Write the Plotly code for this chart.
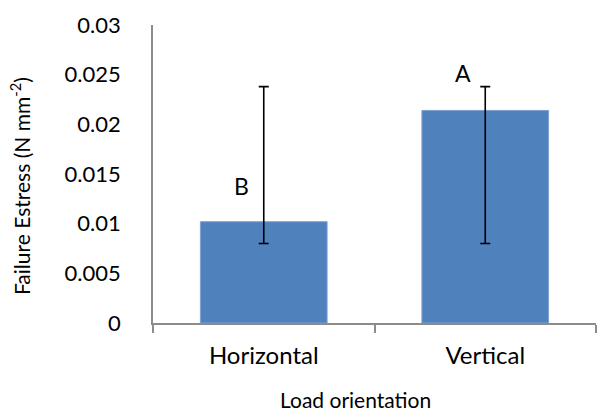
import plotly.graph_objects as go

# Mean failure stress per load orientation, with the upper and lower whisker ends
categories = ["Horizontal", "Vertical"]
mean_stress = [0.0102, 0.0214]
whisker_high = [0.0238, 0.0238]
whisker_low = [0.0080, 0.0080]
group_letters = ["B", "A"]
letter_y = [0.0138, 0.0252]

y_tick_vals = [0, 0.005, 0.01, 0.015, 0.02, 0.025, 0.03]
y_tick_text = ["0", "0.005", "0.01", "0.015", "0.02", "0.025", "0.03"]

err_plus = [h - m for h, m in zip(whisker_high, mean_stress)]
err_minus = [m - l for m, l in zip(mean_stress, whisker_low)]

FONT = "Lato, 'Open Sans', sans-serif"
AXIS_GREY = "#8c8c8c"

fig = go.Figure(
    go.Bar(
        x=categories,
        y=mean_stress,
        width=0.572,
        marker=dict(color="#4f81bd", line=dict(color="#7ea3d3", width=1)),
        error_y=dict(
            type="data",
            symmetric=False,
            array=err_plus,
            arrayminus=err_minus,
            color="black",
            thickness=1.6,
            width=5,
        ),
    )
)

# significance letters above each bar
for cat, letter, ly in zip(categories, group_letters, letter_y):
    fig.add_annotation(
        x=cat, y=ly, text=letter, showarrow=False, xshift=-22,
        font=dict(family=FONT, size=23, color="black"),
    )

# axis titles
fig.add_annotation(
    text="Failure Estress (N mm<sup>-2</sup>)", textangle=-90,
    xref="paper", yref="paper", x=-0.300, y=0.46,
    xanchor="center", yanchor="middle", showarrow=False,
    font=dict(family=FONT, size=21, color="black"),
)
fig.add_annotation(
    text="Load orientation",
    xref="paper", yref="paper", x=0.458, y=-0.258,
    xanchor="center", yanchor="middle", showarrow=False, borderpad=0,
    font=dict(family=FONT, size=21, color="black"),
)

fig.update_layout(
    width=598,
    height=414,
    margin=dict(l=153, r=2, t=25, b=91),
    paper_bgcolor="white",
    plot_bgcolor="white",
    showlegend=False,
    font=dict(family=FONT, color="black"),
    xaxis=dict(
        range=[-0.5, 1.5],
        showline=True,
        linecolor=AXIS_GREY,
        linewidth=1.5,
        ticks="outside",
        tickson="boundaries",
        ticklen=8,
        tickcolor=AXIS_GREY,
        tickwidth=1.5,
        showgrid=False,
        tickfont=dict(family=FONT, size=24),
        ticklabelstandoff=10,
    ),
    yaxis=dict(
        range=[0, 0.03],
        tickvals=y_tick_vals,
        ticktext=y_tick_text,
        showline=True,
        linecolor=AXIS_GREY,
        linewidth=1.5,
        ticks="",
        showgrid=False,
        zeroline=False,
        tickfont=dict(family=FONT, size=22),
        ticklabelstandoff=26,
    ),
)

fig.write_html("out.html")
